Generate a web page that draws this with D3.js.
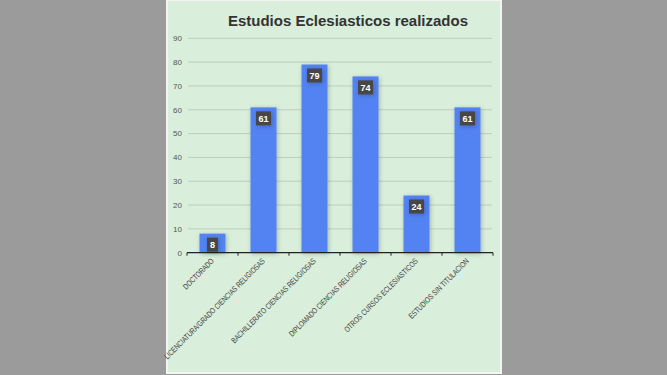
<!DOCTYPE html>
<html lang="es">
<head>
  <meta charset="UTF-8">
  <title>Estudios Eclesiasticos realizados</title>
  <script src="https://d3js.org/d3.v7.min.js"></script>
  <style>
    body, html {
      margin: 0;
      padding: 0;
      background: #9b9b9b;
    }
    svg {
      display: block;
    }
    .title {
      font-family: "Liberation Sans", Arial, sans-serif;
      font-size: 15px;
      font-weight: bold;
      fill: #333;
      text-anchor: middle;
    }
    .ytick {
      font-family: "Liberation Sans", Arial, sans-serif;
      font-size: 8px;
      fill: #555;
      text-anchor: end;
    }
    .xlabel {
      font-family: "Liberation Sans", Arial, sans-serif;
      font-size: 8px;
      fill: #444;
      text-anchor: end;
    }
    .val {
      font-family: "Liberation Sans", Arial, sans-serif;
      font-size: 9px;
      font-weight: bold;
      fill: #fff;
      text-anchor: middle;
    }
  </style>
</head>
<body>
  <svg width="667" height="375"></svg>

  <script>
    const categories = [
      "DOCTORADO",
      "LICENCIATURA/GRADO CIENCIAS RELIGIOSAS",
      "BACHILLERATO CIENCIAS RELIGIOSAS",
      "DIPLOMADO CIENCIAS RELIGIOSAS",
      "OTROS CURSOS ECLESIASTICOS",
      "ESTUDIOS SIN TITULACION"
    ];
    const values = [8, 61, 79, 74, 24, 61];
    const yTicks = [0, 10, 20, 30, 40, 50, 60, 70, 80, 90];

    const svg = d3.select("svg");

    const defs = svg.append("defs");
    const sh = defs.append("filter").attr("id", "shadow")
      .attr("x", "-50%").attr("y", "-50%").attr("width", "200%").attr("height", "200%");
    sh.append("feDropShadow").attr("dx", 1).attr("dy", 1)
      .attr("stdDeviation", 2).attr("flood-color", "#000").attr("flood-opacity", 0.25);

    // panel
    svg.append("rect")
      .attr("x", 167).attr("y", 0)
      .attr("width", 334).attr("height", 373)
      .attr("fill", "#d9eedb")
      .attr("stroke", "#f4f4f4")
      .attr("stroke-width", 2);

    svg.append("text")
      .attr("class", "title")
      .attr("x", 348).attr("y", 26)
      .text("Estudios Eclesiasticos realizados");

    const y = d3.scaleLinear().domain([0, 90]).range([252.7, 38.3]);
    const x = d3.scaleBand().domain(categories).range([187, 493])
      .paddingInner(0.49).paddingOuter(0.245);

    // gridlines
    svg.append("g").selectAll("line")
      .data(yTicks.slice(1))
      .join("line")
      .attr("x1", 188).attr("x2", 492)
      .attr("y1", d => y(d)).attr("y2", d => y(d))
      .attr("stroke", "#bccfbd")
      .attr("stroke-width", 1);

    svg.append("g").selectAll("text")
      .data(yTicks)
      .join("text")
      .attr("class", "ytick")
      .attr("x", 182)
      .attr("y", d => y(d))
      .attr("dy", "0.35em")
      .text(d => d);

    // bars
    svg.append("g").selectAll("rect")
      .data(values)
      .join("rect")
      .attr("x", (d, i) => x(categories[i]))
      .attr("y", d => y(d))
      .attr("width", x.bandwidth())
      .attr("height", d => y(0) - y(d))
      .attr("fill", "#5283f3")
      .attr("filter", "url(#shadow)");

    // x axis
    svg.append("line")
      .attr("x1", 187).attr("x2", 493)
      .attr("y1", y(0)).attr("y2", y(0))
      .attr("stroke", "#222").attr("stroke-width", 1.2);

    const bounds = d3.range(categories.length + 1).map(i => x.range()[0] + i * x.step());
    svg.append("g").selectAll("line")
      .data(bounds)
      .join("line")
      .attr("x1", d => d).attr("x2", d => d)
      .attr("y1", y(0)).attr("y2", y(0) + 3)
      .attr("stroke", "#222");

    // condensed, rotated category labels
    svg.append("g").selectAll("text")
      .data(categories)
      .join("text")
      .attr("class", "xlabel")
      .attr("transform", d => `translate(${x(d) + x.bandwidth() / 2 + 2},${y(0) + 9}) rotate(-45) scale(0.77,1)`)
      .text(d => d);

    // value labels
    const lab = svg.append("g").selectAll("g")
      .data(values)
      .join("g")
      .attr("transform", (d, i) => `translate(${x(categories[i]) + x.bandwidth() / 2},${y(d) + 4})`);

    lab.append("rect")
      .attr("x", d => d < 10 ? -5.5 : -7.5)
      .attr("width", d => d < 10 ? 11 : 15)
      .attr("height", 14)
      .attr("fill", "#474747")
      .attr("filter", "url(#shadow)");

    lab.append("text")
      .attr("class", "val")
      .attr("y", 7)
      .attr("dy", "0.35em")
      .text(d => d);
  </script>
</body>
</html>
